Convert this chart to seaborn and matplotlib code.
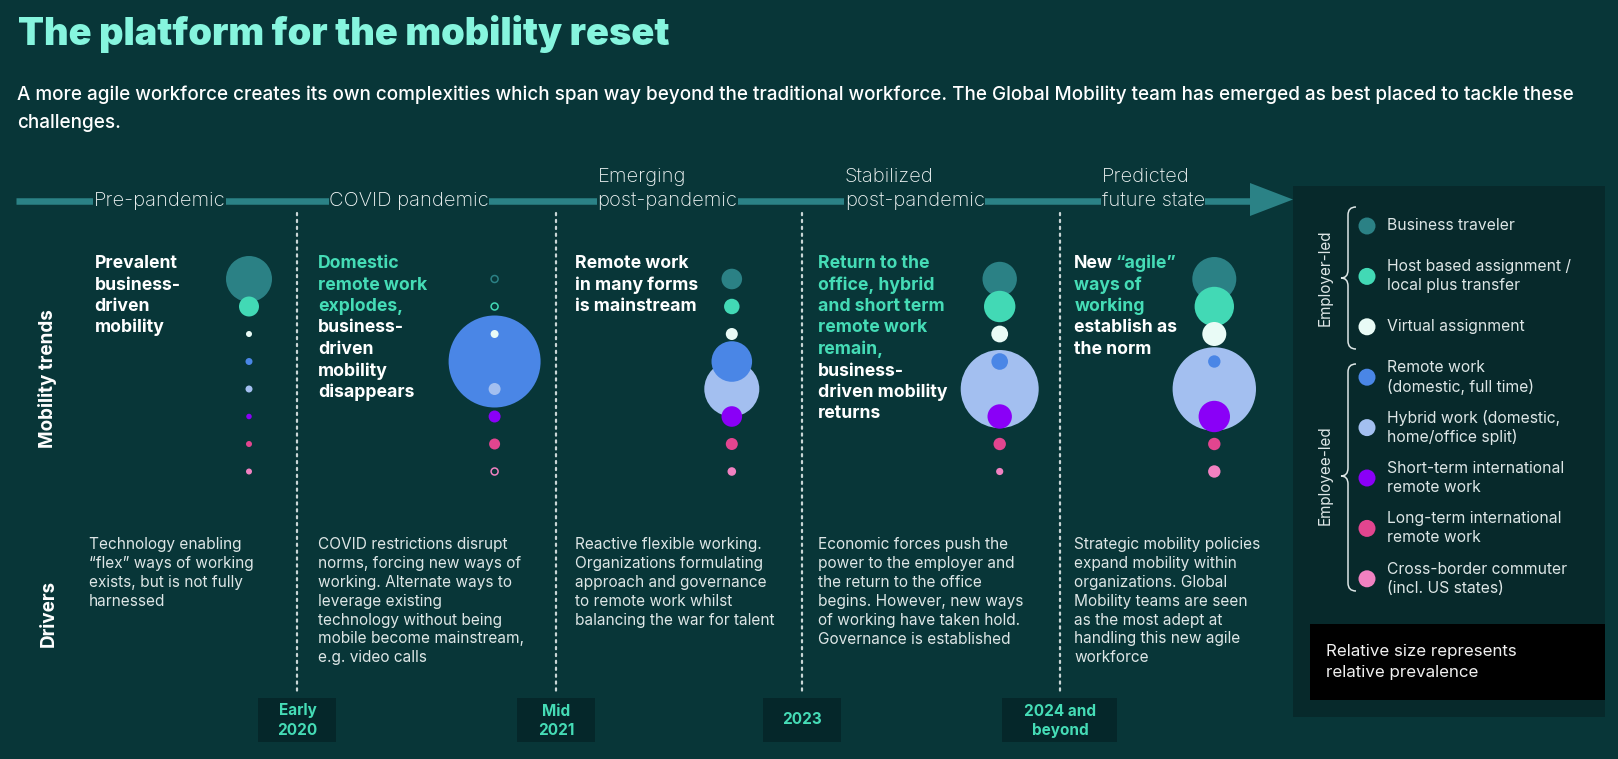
import numpy as np
import pandas as pd
import matplotlib
matplotlib.use("Agg")
import matplotlib.pyplot as plt
from matplotlib.patches import Rectangle, PathPatch, Polygon
from matplotlib.path import Path
import seaborn as sns

# ---------------- data ----------------
categories = ["Business traveler", "Host based assignment", "Virtual assignment",
              "Remote work", "Hybrid work", "Short-term international",
              "Long-term international", "Cross-border commuter"]
legend_labels = ["Business traveler", "Host based assignment /\nlocal plus transfer",
                 "Virtual assignment", "Remote work\n(domestic, full time)",
                 "Hybrid work (domestic,\nhome/office split)",
                 "Short-term international\nremote work",
                 "Long-term international\nremote work",
                 "Cross-border commuter\n(incl. US states)"]
cat_colors = ["#2b8185", "#42d9b5", "#e9fbf6", "#4a86e6", "#a3bff0",
              "#8a00f7", "#e2458f", "#f181c1"]
periods = ["Pre-pandemic", "COVID pandemic", "Emerging\npost-pandemic",
           "Stabilized\npost-pandemic", "Predicted\nfuture state"]
# relative size (bubble diameter) per period, order = categories
size_pre = [46, 20, 6, 7, 7, 5.5, 6, 6]
size_covid = [7, 7, 8, 92, 12, 12, 11, 7]
size_emerging = [20.6, 15.5, 12, 40.6, 55, 20.6, 12, 8.6]
size_stabilized = [34.4, 31.4, 16.8, 16.6, 78, 24.4, 12.4, 7.2]
size_predicted = [44, 39.4, 24, 12.4, 83.4, 31.4, 12.4, 12.4]
hollow_covid = ["Business traveler", "Host based assignment", "Cross-border commuter"]

trend_texts = [
    [[("Prevalent", "w")], [("business-", "w")], [("driven", "w")], [("mobility", "w")]],
    [[("Domestic", "g")], [("remote work", "g")], [("explodes,", "g")], [("business-", "w")],
     [("driven", "w")], [("mobility", "w")], [("disappears", "w")]],
    [[("Remote work", "w")], [("in many forms", "w")], [("is mainstream", "w")]],
    [[("Return to the", "g")], [("office, hybrid", "g")], [("and short term", "g")],
     [("remote work", "g")], [("remain,", "g")], [("business-", "w")],
     [("driven mobility", "w")], [("returns", "w")]],
    [[("New", "w"), ("\u201cagile\u201d", "g")], [("ways of", "g")], [("working", "g")],
     [("establish as", "w")], [("the norm", "w")]],
]
driver_texts = [
    "Technology enabling\n\u201cflex\u201d ways of working\nexists, but is not fully\nharnessed",
    "COVID restrictions disrupt\nnorms, forcing new ways of\nworking. Alternate ways to\nleverage existing\ntechnology without being\nmobile become mainstream,\ne.g. video calls",
    "Reactive flexible working.\nOrganizations formulating\napproach and governance\nto remote work whilst\nbalancing the war for talent",
    "Economic forces push the\npower to the employer and\nthe return to the office\nbegins. However, new ways\nof working have taken hold.\nGovernance is established",
    "Strategic mobility policies\nexpand mobility within\norganizations. Global\nMobility teams are seen\nas the most adept at\nhandling this new agile\nworkforce",
]
dates = ["Early\n2020", "Mid\n2021", "2023", "2024 and\nbeyond"]

title = "The platform for the mobility reset"
subtitle = ["A more agile workforce creates its own complexities which span way beyond the traditional workforce. The Global Mobility team has emerged as best placed to tackle these",
            "challenges."]

# ---------------- layout / style ----------------
BG = "#083638"
BOX = "#07292b"
DATEBOX = "#05272a"
MINT = "#45dcb6"
TITLE_C = "#86f5de"
WHITE = "#ffffff"
TXT = "#dde6e6"
ARROW_C = "#2b8286"

W, H = 1618, 759
DPI = 100
PT = 0.72  # points per pixel at 100 dpi

sns.set_theme(style="white", rc={"figure.facecolor": BG, "axes.facecolor": BG})
plt.rcParams["font.family"] = ["Inter", "DejaVu Sans"]

fig = plt.figure(figsize=(W / DPI, H / DPI), dpi=DPI)
ax = fig.add_axes([0, 0, 1, 1])
ax.set_facecolor(BG)

col_x = [249, 494.6, 731.8, 999.7, 1214.3]
row_y0, row_step = 279, 27.5
text_x = [94.6, 318, 575, 818, 1074.3]
head_x = [93.6, 329, 597.5, 844.7, 1101.7]
sep_x = [297.5, 556.4, 802.4, 1060]
palette = dict(zip(categories, cat_colors))

# ---- build data frame of bubbles ----
all_sizes = [size_pre, size_covid, size_emerging, size_stabilized, size_predicted]
rows = []
for j, (p, sz) in enumerate(zip(periods, all_sizes)):
    for i, (c, v) in enumerate(zip(categories, sz)):
        rows.append(dict(period=p, category=c, value=v,
                         x=col_x[j], y=row_y0 + row_step * i,
                         hollow=(j == 1 and c in hollow_covid)))
df = pd.DataFrame(rows)
df["area"] = (df["value"] * PT) ** 2
df = df.sort_values("value", ascending=False, kind="stable")

# ---- legend box and date boxes ----
ax.add_patch(Rectangle((1293, 186), 312, 531, facecolor=BOX, edgecolor="none", zorder=0))
ax.add_patch(Rectangle((1310, 624), 295, 76, facecolor="black", edgecolor="none", zorder=1))

for k, (sx, d) in enumerate(zip(sep_x, dates)):
    ax.plot([sx, sx], [213, 695], color="#c9d6d6", lw=1.6,
            linestyle=(0, (1, 2.1)), dash_capstyle="round", zorder=1)
    w = 115 if "\n" in d and len(d) > 10 else 78
    ax.add_patch(Rectangle((sx - w / 2, 698), w, 44, facecolor=DATEBOX,
                           edgecolor="none", zorder=1))
    lines = d.split("\n")
    ys = [720] if len(lines) == 1 else [711, 730.5]
    for ln, yy in zip(lines, ys):
        ax.text(sx, yy, ln, ha="center", va="center", color=MINT, fontsize=11,
                fontweight="bold", zorder=3)

# ---- timeline arrow ----
ax.plot([16, 1252], [201, 201], color=ARROW_C, lw=6.5 * PT, solid_capstyle="butt", zorder=1)
ax.add_patch(Polygon([[1250, 183], [1293, 199.5], [1250, 216]], closed=True,
                     facecolor=ARROW_C, edgecolor="none", zorder=1))

for hx, p in zip(head_x, periods):
    lines = p.split("\n")
    base = 206
    for k, ln in enumerate(lines):
        yy = base - (len(lines) - 1 - k) * 24
        kw = {}
        if k == len(lines) - 1:
            kw["bbox"] = dict(facecolor=BG, edgecolor="none", pad=0.2)
        ax.text(hx, yy, ln, ha="left", va="baseline", color="#f2f6f6",
                fontsize=14.5, fontweight="light", zorder=2, **kw)

# ---- titles ----
ax.text(18, 45, title, ha="left", va="baseline", color=TITLE_C, fontsize=27.3,
        fontweight="black")
for k, ln in enumerate(subtitle):
    ax.text(17, 100 + 28 * k, ln, ha="left", va="baseline", color=WHITE,
            fontsize=13.6, fontweight="medium")

# ---- row labels ----
ax.text(47.5, 379, "Mobility trends", rotation=90, ha="center", va="center",
        color=WHITE, fontsize=13.6, fontweight="bold")
ax.text(49, 613, "Drivers", rotation=90, ha="center", va="center",
        color=WHITE, fontsize=13.6, fontweight="bold")

# ---- trend texts ----
cmap_txt = {"w": WHITE, "g": MINT}
for tx, lines in zip(text_x, trend_texts):
    for k, parts in enumerate(lines):
        yy = 268 + 21.5 * k
        prev = None
        for s, c in parts:
            if prev is None:
                prev = ax.text(tx, yy, s, ha="left", va="baseline", color=cmap_txt[c],
                               fontsize=12.7, fontweight="bold", zorder=3)
            else:
                prev = ax.annotate(s, xy=(1, 0), xycoords=prev, xytext=(1.8, 0),
                                   textcoords="offset points", ha="left", va="bottom",
                                   color=cmap_txt[c], fontsize=12.7, fontweight="bold",
                                   zorder=3)

# ---- driver texts ----
for tx, t in zip(text_x, driver_texts):
    for k, ln in enumerate(t.split("\n")):
        ax.text(tx - 6 if tx < 100 else tx, 549 + 18.9 * k, ln, ha="left", va="baseline",
                color=TXT, fontsize=11.1, zorder=3)

# ---- bubbles ----
filled = df[~df["hollow"]]
sizes_map = {v: v for v in filled["area"].unique()}
sns.scatterplot(data=filled, x="x", y="y", hue="category", palette=palette,
                size="area", sizes=sizes_map, legend=False, linewidth=0,
                alpha=1, ax=ax, zorder=4)
hol = df[df["hollow"]]
ax.scatter(hol["x"], hol["y"], s=hol["area"], facecolors="none",
           edgecolors=[palette[c] for c in hol["category"]], linewidths=1.1, zorder=4)

# ---- legend ----
leg_y = [226 + 50.4 * i for i in range(len(categories))]
leg_df = pd.DataFrame({"x": [1367] * len(categories), "y": leg_y, "category": categories})
sns.scatterplot(data=leg_df, x="x", y="y", hue="category", palette=palette,
                s=(17 * PT) ** 2, linewidth=0, legend=False, ax=ax, zorder=4)
for yy, lab in zip(leg_y, legend_labels):
    lines = lab.split("\n")
    offs = [0] if len(lines) == 1 else [-9.5, 9.5]
    for ln, o in zip(lines, offs):
        ax.text(1387, yy + o, ln, ha="left", va="center", color=TXT, fontsize=11.3, zorder=3)


def brace(top, bot, mid):
    x1, xs, xt, r = 1356, 1348, 1341, 8
    verts = [(x1, top), (xs, top), (xs, top + r), (xs, mid - r), (xs, mid), (xt, mid),
             (xs, mid), (xs, mid + r), (xs, bot - r), (xs, bot), (x1, bot)]
    codes = [Path.MOVETO, Path.CURVE3, Path.CURVE3, Path.LINETO, Path.CURVE3, Path.CURVE3,
             Path.CURVE3, Path.CURVE3, Path.LINETO, Path.CURVE3, Path.CURVE3]
    ax.add_patch(PathPatch(Path(verts, codes), facecolor="none", edgecolor=TXT,
                           lw=1.1, zorder=3))


brace(207, 349, 278)
brace(364, 591, 476)
ax.text(1325, 278, "Employer-led", rotation=90, ha="center", va="center", color=TXT,
        fontsize=11)
ax.text(1325, 475, "Employee-led", rotation=90, ha="center", va="center", color=TXT,
        fontsize=11)
ax.text(1326, 651.5, "Relative size represents", ha="left", va="center", color="#f0f0f0",
        fontsize=12.2, zorder=3)
ax.text(1326, 672.5, "relative prevalence", ha="left", va="center", color="#f0f0f0",
        fontsize=12.2, zorder=3)

ax.set_xlim(0, W)
ax.set_ylim(H, 0)
ax.set_axis_off()
fig.savefig("out.png", dpi=DPI, facecolor=BG)
